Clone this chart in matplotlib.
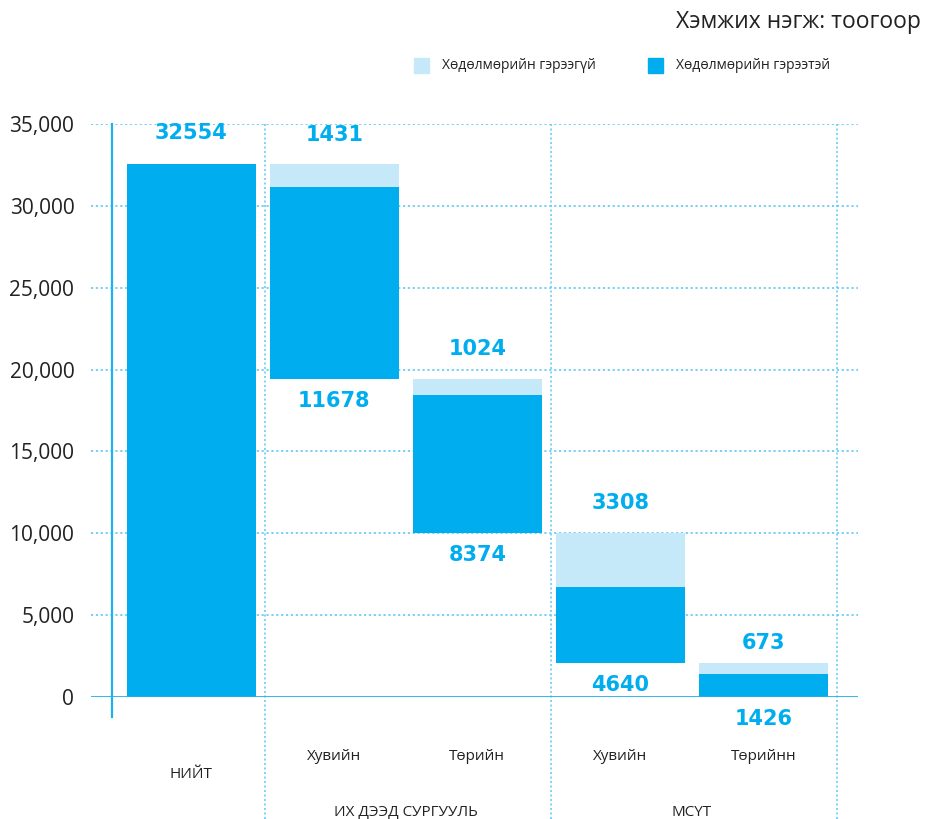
import matplotlib
matplotlib.use("Agg")
import matplotlib.pyplot as plt
from matplotlib.patches import Rectangle

plt.rcParams['font.family'] = ['Open Sans', 'DejaVu Sans']

# ---------------- data ----------------
total_label = "НИЙТ"
total_value = 32554
sub_labels = ["Хувийн", "Төрийн", "Хувийн", "Төрийнн"]
group_labels = ["ИХ ДЭЭД СУРГУУЛЬ", "МСҮТ"]
no_contract = [1431, 1024, 3308, 673]        # Хөдөлмөрийн гэрээгүй
with_contract = [11678, 8374, 4640, 1426]    # Хөдөлмөрийн гэрээтэй
legend_labels = ["Хөдөлмөрийн гэрээгүй", "Хөдөлмөрийн гэрээтэй"]
yticks = [0, 5000, 10000, 15000, 20000, 25000, 30000, 35000]
title = "Хэмжих нэгж: тоогоор"

# ---------------- style ----------------
DARK = "#00AEEF"
LIGHT = "#C6E9F9"
GRID = "#6CCDF3"
TEXT = "#222222"
W, H = 925, 819
VAL_FONT = dict(fontsize=15, fontweight="bold", color=DARK, family="DejaVu Sans")

fig = plt.figure(figsize=(W / 100, H / 100), dpi=100)
ax = fig.add_axes([91 / W, 1 - 697 / H, (858 - 91) / W, (697 - 124) / H])
ax.set_xlim(-0.7, 4.66)
ax.set_ylim(0, 35000)
for s in ax.spines.values():
    s.set_visible(False)

# grid
for y in yticks[1:]:
    ax.axhline(y, color=GRID, lw=1.3, ls=(0, (1.2, 1.5)), zorder=1)
ax.axhline(0, color="#1EB1EC", lw=2, zorder=4)

# left axis line
ytr = ax.get_yaxis_transform()
ax.plot([0.0274, 0.0274], [35000, -1250], transform=ytr, color="#1EB1EC",
        lw=1.6, clip_on=False, zorder=4)

# vertical dividers
for xv in [0.515, 2.515, 4.515]:
    ax.plot([xv, xv], [35000, -7600], color=GRID, lw=1.2, ls=(0, (1.2, 1.5)),
            clip_on=False, zorder=1)

bw = 0.9
# total bar
ax.bar(0, total_value, width=bw, color=DARK, zorder=3)
ax.annotate(str(total_value), (0, total_value), xytext=(0, 22), textcoords="offset points",
            ha="center", va="center", **VAL_FONT)

remaining = total_value
for i, (nc, wc) in enumerate(zip(no_contract, with_contract)):
    x = i + 1
    top = remaining
    ax.bar(x, nc, bottom=top - nc, width=bw, color=LIGHT, zorder=3)
    ax.bar(x, wc, bottom=top - nc - wc, width=bw, color=DARK, zorder=3)
    above = 21 if top > 5000 else 14
    ax.annotate(str(nc), (x, top), xytext=(0, above), textcoords="offset points",
                ha="center", va="center", **VAL_FONT)
    ax.annotate(str(wc), (x, top - nc - wc), xytext=(0, -16), textcoords="offset points",
                ha="center", va="center", **VAL_FONT)
    remaining = top - nc - wc

# y ticks
ax.set_yticks(yticks)
ax.set_yticklabels([f"{v:,}" for v in yticks], fontsize=15, color=TEXT)
ax.tick_params(axis="y", length=0, pad=12)
ax.set_xticks([])

# category labels
xtr = ax.get_xaxis_transform()
ax.text(0, -0.136, total_label, transform=xtr, ha="center", va="center",
        fontsize=11, color=TEXT)
for i, lab in enumerate(sub_labels):
    ax.text(i + 1, -0.103, lab, transform=xtr, ha="center", va="center",
            fontsize=11, color=TEXT)
for g, lab in enumerate(group_labels):
    ax.text(2 * g + 1.5, -0.2007, lab, transform=xtr, ha="center", va="center",
            fontsize=11, color=TEXT)

# legend (manual)
for (x0, col), lab in zip([(414, LIGHT), (648, DARK)], legend_labels):
    fig.patches.append(Rectangle((x0 / W, 1 - 73 / H), 15 / W, 15 / H,
                                 transform=fig.transFigure, color=col))
    fig.text((x0 + 28) / W, 1 - 65.5 / H, lab, ha="left", va="center",
             fontsize=10, color=TEXT)

fig.text(921 / W, 1 - 22 / H, title, ha="right", va="center", fontsize=16.5, color=TEXT)

fig.savefig("out.png", dpi=100)
